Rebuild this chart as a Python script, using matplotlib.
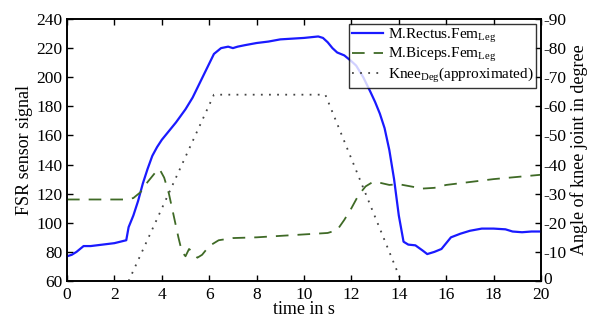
import matplotlib
matplotlib.use("Agg")
import matplotlib.pyplot as plt
import matplotlib.transforms as mtransforms
import numpy as np

plt.rcParams['font.family'] = ['Liberation Serif', 'DejaVu Serif']
plt.rcParams['mathtext.fontset'] = 'custom'
plt.rcParams['mathtext.rm'] = 'Liberation Serif'
plt.rcParams['mathtext.it'] = 'Liberation Serif'

# M.Rectus.Fem (blue)
t_rectus = [0, 0.2, 0.4, 0.7, 1.0, 1.5, 2.0, 2.5, 2.6, 2.8, 3.0, 3.2, 3.4, 3.6, 3.8, 4.0,
            4.3, 4.6, 5.0, 5.3, 5.6, 5.9, 6.2, 6.5, 6.8, 7.0, 7.2, 7.5, 8.0, 8.5, 9.0,
            9.5, 10.0, 10.6, 10.8, 11.0, 11.2, 11.4, 11.7, 12.0, 12.2, 12.5, 12.8, 13.0,
            13.2, 13.4, 13.6, 13.8, 14.0, 14.2, 14.4, 14.7, 15.0, 15.2, 15.5, 15.8, 16.0,
            16.2, 16.6, 17.0, 17.5, 18.0, 18.5, 18.8, 19.2, 19.6, 20.0]
y_rectus = [77, 78, 80, 84, 84, 85, 86, 88, 97, 105, 115, 127, 137, 146, 152, 157,
            163, 169, 178, 186, 196, 206, 216, 220, 221, 220, 221, 222, 223.5, 224.5, 226,
            226.5, 227, 228, 227, 224, 220, 217, 215, 211, 208, 200, 190, 183,
            175, 165, 150, 130, 105, 87, 85, 84.5, 81, 78.5, 80, 82, 86,
            90, 92.5, 94.5, 96, 96, 95.5, 94, 93.5, 94, 94]

# M.Biceps.Fem (green dashed)
t_biceps = [0, 0.5, 1.0, 1.5, 2.0, 2.5, 2.8, 3.1, 3.4, 3.7, 3.9, 4.1, 4.3, 4.5, 4.7,
            4.85, 5.0, 5.15, 5.3, 5.5, 5.7, 6.0, 6.4, 7.0, 8.0, 9.0, 10.0, 11.0, 11.4,
            11.7, 12.0, 12.3, 12.6, 12.9, 13.2, 13.6, 14.0, 14.5, 15.0, 15.5, 16.0,
            17.0, 18.0, 19.0, 20.0]
y_biceps = [116, 116, 116, 116, 116, 116, 117, 121, 128, 134, 137, 131, 120, 105, 90,
            80, 77, 82, 80, 76, 78, 84, 88, 89.5, 90, 91, 92, 93, 95,
            102, 110, 119, 125, 128, 127.5, 126, 126.5, 125, 123.5, 124, 126,
            128, 130, 131.5, 133]

# Knee angle (dotted, right axis, degrees)
t_knee = [2.6, 6.2, 10.9, 14.1]
deg_knee = [0, 64, 64, 0]

fig = plt.figure(figsize=(5.95, 3.2), dpi=100)
ax = fig.add_axes([67/595, 1 - 281/320, (541-67)/595, (281-19)/320])
ax2 = ax.twinx()

l1, = ax.plot(t_rectus, y_rectus, color='#1a1aff', lw=1.6, label=r'M.Rectus.Fem$_{\mathrm{Leg}}$')
l2, = ax.plot(t_biceps, y_biceps, color='#3f6a26', lw=1.3, ls=(0, (7, 5)),
              label=r'M.Biceps.Fem$_{\mathrm{Leg}}$')
l3, = ax2.plot(t_knee, deg_knee, color='#444444', lw=1.3, ls=(0, (1, 3.5)),
               label=r'Knee$_{\mathrm{Deg}}$(approximated)')

ax.set_xlim(0, 20)
ax.set_ylim(60, 240)
ax2.set_ylim(0, 90)
ax.set_xticks(np.arange(0, 21, 2))
ax.set_yticks(np.arange(60, 241, 20))
ax2.set_yticks(np.arange(0, 91, 10))
ax2.set_yticklabels(['0'] + ['-%d' % v for v in range(10, 91, 10)])

ax.tick_params(direction='in', top=True, right=False, labelsize=12.5, length=4, width=1)
ax.tick_params(axis='x', pad=4)
ax2.tick_params(direction='in', labelsize=12.5, length=4, width=1, pad=2)
for a in (ax, ax2):
    for s in a.spines.values():
        s.set_linewidth(1.2)

# nudge the right-axis "0" label up a little so it clears the "20" x label
lab0 = ax2.get_yticklabels()[0]
lab0.set_transform(lab0.get_transform() + mtransforms.ScaledTranslation(0, 3/100, fig.dpi_scale_trans))

ax.set_xlabel('time in s', fontsize=13, labelpad=-1)
ax.set_ylabel('FSR sensor signal', fontsize=13, labelpad=2)
ax2.set_ylabel('Angle of knee joint in degree', fontsize=13, labelpad=2)

leg = ax.legend(handles=[l1, l2, l3], loc='upper right', fontsize=11,
                frameon=True, fancybox=False, edgecolor='black',
                handlelength=2.0, handletextpad=0.3, borderpad=0.2,
                labelspacing=0.1, borderaxespad=0.3)
leg.get_frame().set_linewidth(1.0)
ax2.set_zorder(1)
ax.set_zorder(2)
ax.patch.set_visible(False)

fig.savefig('out.png', dpi=100)
